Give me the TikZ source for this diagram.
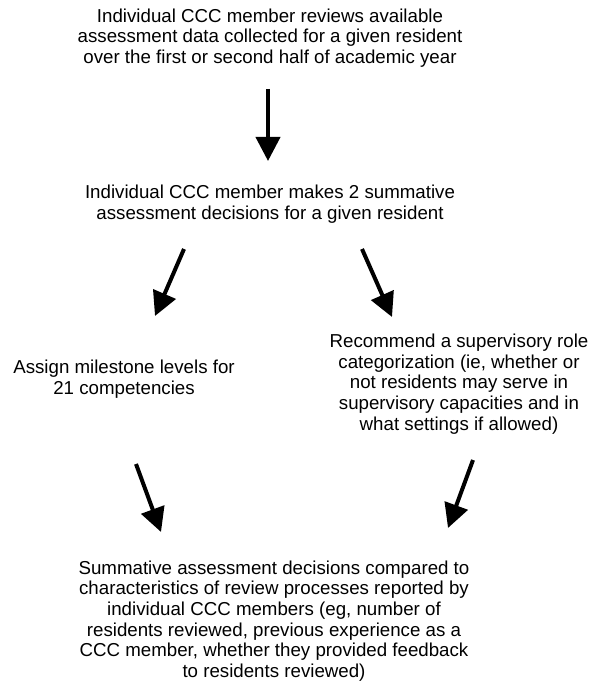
\documentclass[tikz,border=0pt]{standalone}
\usepackage{fontspec}
\setmainfont{Liberation Sans}
\usetikzlibrary{arrows.meta}

\begin{document}
\begin{tikzpicture}[x=1pt, y=-1pt,
  txt/.style={align=center, inner sep=0pt, font=\fontsize{18.7}{20.6}\selectfont},
  arr/.style={line width=4pt, -{Triangle[length=24pt, width=24pt]}}]

\useasboundingbox (0,0) rectangle (597,684);

\node[txt] at (270,38) (a1) {Individual CCC member reviews available\\
assessment data collected for a given resident\\
over the first or second half of academic year};

\node[txt] at (270,204) (a2) {Individual CCC member makes 2 summative\\
assessment decisions for a given resident};

\node[txt] at (124,379) (a3) {Assign milestone levels for\\ 21 competencies};

\node[txt] at (459,384) (a4) {Recommend a supervisory role\\
categorization (ie, whether or\\
not residents may serve in\\
supervisory capacities and in\\
what settings if allowed)};

\node[txt] at (274,621) (a5) {Summative assessment decisions compared to\\
characteristics of review processes reported by\\
individual CCC members (eg, number of\\
residents reviewed, previous experience as a\\
CCC member, whether they provided feedback\\
to residents reviewed)};

% arrow ends
\coordinate (p1) at (268,89);   \coordinate (q1) at (268,161);
\coordinate (p2) at (184,249);  \coordinate (q2) at (155,316);
\coordinate (p3) at (362,249);  \coordinate (q3) at (392,317);
\coordinate (p4) at (136,464);  \coordinate (q4) at (161,532);
\coordinate (p5) at (473,460);  \coordinate (q5) at (448,528);

\draw[arr] (p1) -- (q1);
\draw[arr] (p2) -- (q2);
\draw[arr] (p3) -- (q3);
\draw[arr] (p4) -- (q4);
\draw[arr] (p5) -- (q5);

\end{tikzpicture}
\end{document}
